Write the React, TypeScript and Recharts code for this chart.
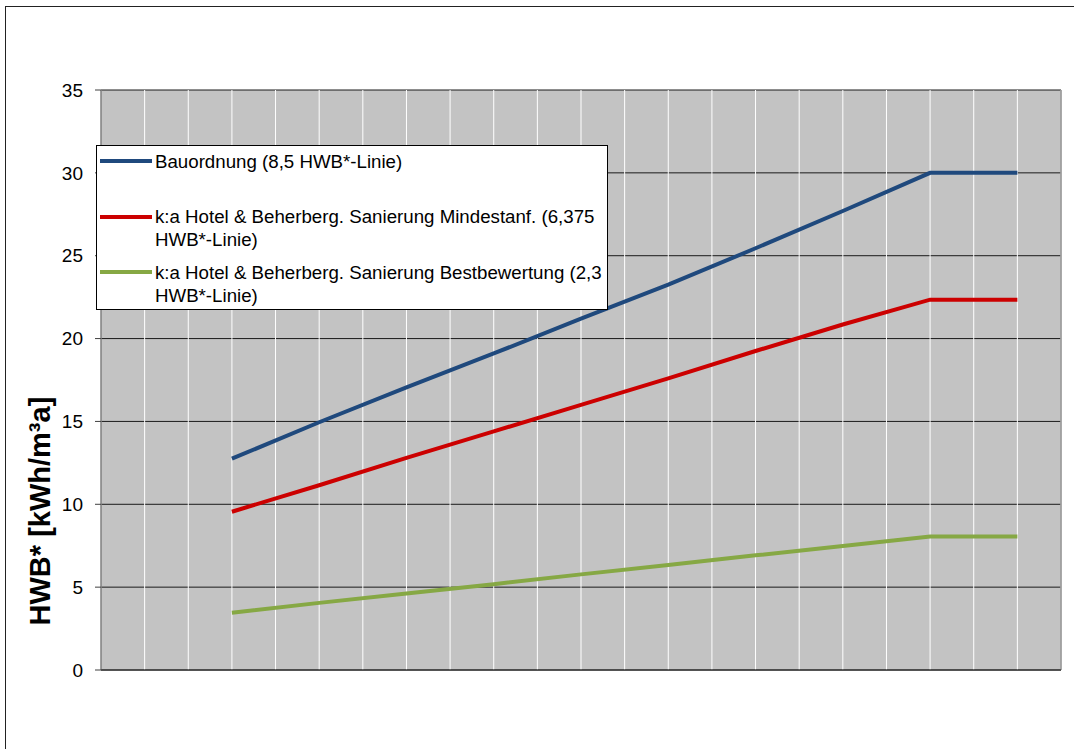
import { CartesianGrid, Legend, Line, LineChart, ReferenceLine, XAxis, YAxis } from "recharts";

const FONT = "'Liberation Sans', Arial, sans-serif";

// category index along the x axis (no labels are shown in the original)
const categories = [1, 2, 3, 4, 5, 6, 7, 8, 9, 10, 11];
const bauordnung = [null, 12.75, 14.95, 17.05, 19.1, 21.2, 23.25, 25.45, 27.7, 30.0, 30.0];
const mindestanf = [null, 9.55, 11.15, 12.8, 14.4, 16.0, 17.6, 19.25, 20.85, 22.35, 22.35];
const bestbewertung = [null, 3.45, 4.05, 4.62, 5.18, 5.77, 6.34, 6.92, 7.48, 8.05, 8.05];

const yTicks = [0, 5, 10, 15, 20, 25, 30, 35];
const xBoundaries = [0.5, 1.5, 2.5, 3.5, 4.5, 5.5, 6.5, 7.5, 8.5, 9.5, 10.5, 11.5];

const seriesNames = [
    "Bauordnung (8,5 HWB*-Linie)",
    "k:a Hotel & Beherberg. Sanierung Mindestanf. (6,375 HWB*-Linie)",
    "k:a Hotel & Beherberg. Sanierung Bestbewertung (2,3 HWB*-Linie)",
];
const seriesColors = ["#1F497D", "#CC0000", "#86A844"];

const data = categories.map((c, i) => ({
    cat: c,
    a: bauordnung[i],
    b: mindestanf[i],
    c: bestbewertung[i],
}));

const LegendBox = (props: any) => {
    // keep the series order (the legend sorts by name otherwise)
    const items = [...(props.payload || [])].sort(
        (p: any, q: any) => seriesNames.indexOf(p.value) - seriesNames.indexOf(q.value),
    );
    return (
        <div
            style={{
                width: 510,
                height: 163,
                background: "#fff",
                border: "1px solid #000",
                position: "relative",
                fontFamily: FONT,
                fontSize: 18.7,
                lineHeight: "23px",
                color: "#000",
            }}
        >
            {items.map((it: any, i: number) => (
                <div key={it.value} style={{ position: "absolute", left: 3, top: 3.5 + i * 55.5, display: "flex" }}>
                    <div style={{ width: 52, height: 4, background: it.color, marginTop: 9.5, flex: "none" }} />
                    <div style={{ width: 465, marginLeft: 3 }}>{it.value}</div>
                </div>
            ))}
        </div>
    );
};

const YLabel = (props: any) => {
    const vb = props.viewBox || { x: 41, y: 90, width: 60, height: 580 };
    const cx = vb.x - 1;
    const cy = vb.y + vb.height * 0.726;
    return (
        <text
            x={cx}
            y={cy}
            transform={`rotate(-90 ${cx} ${cy})`}
            textAnchor="middle"
            dominantBaseline="central"
            fontFamily={FONT}
            fontWeight="bold"
            fontSize={29}
            fill="#000"
        >
            HWB* [kWh/m³a]
        </text>
    );
};

// white vertical lines at every category centre and boundary
const verticalLines = ({ offset }: any) => {
    const out: number[] = [];
    for (let k = 0; k <= categories.length * 2; k++) {
        out.push(offset.left + (offset.width * k) / (categories.length * 2));
    }
    return out;
};

export default function App() {
    return (
        <div style={{ position: "absolute", left: 0, top: 0, width: 1074, height: 749, background: "#fff", overflow: "hidden" }}>
            <div
                style={{
                    position: "absolute",
                    left: 5,
                    top: 6,
                    width: 1069,
                    height: 743,
                    borderLeft: "1.5px solid #222",
                    borderTop: "1.5px solid #222",
                }}
            />
            <div style={{ position: "absolute", left: 0, top: 0 }}>
                <LineChart width={1074} height={749} data={data} margin={{ top: 90, right: 13, left: 41, bottom: 69 }}>
                    <CartesianGrid vertical={false} stroke="#1a1a1a" fill="#c3c3c3" fillOpacity={1} />
                    <CartesianGrid horizontal={false} stroke="#ffffff" verticalCoordinatesGenerator={verticalLines} />
                    <XAxis
                        type="number"
                        dataKey="cat"
                        domain={[0.5, 11.5]}
                        ticks={xBoundaries}
                        tick={false}
                        height={10}
                        tickSize={6}
                        stroke="#404040"
                        strokeWidth={1.5}
                    />
                    <YAxis
                        type="number"
                        domain={[0, 35]}
                        ticks={yTicks}
                        width={60}
                        tickSize={6}
                        tickMargin={12}
                        stroke="#404040"
                        tick={{ fill: "#000", fontSize: 19, fontFamily: FONT }}
                        label={{ content: YLabel }}
                    />
                    <ReferenceLine x={11.5} stroke="#8c8c8c" strokeWidth={1.5} />
                    <Line dataKey="a" name={seriesNames[0]} stroke={seriesColors[0]} strokeWidth={4} dot={false} isAnimationActive={false} />
                    <Line dataKey="b" name={seriesNames[1]} stroke={seriesColors[1]} strokeWidth={4} dot={false} isAnimationActive={false} />
                    <Line dataKey="c" name={seriesNames[2]} stroke={seriesColors[2]} strokeWidth={4} dot={false} isAnimationActive={false} />
                    <Legend
                        layout="vertical"
                        align="center"
                        verticalAlign="middle"
                        content={LegendBox}
                        wrapperStyle={{ left: 96, top: 145, width: 512, height: 165 }}
                    />
                </LineChart>
            </div>
        </div>
    );
}
